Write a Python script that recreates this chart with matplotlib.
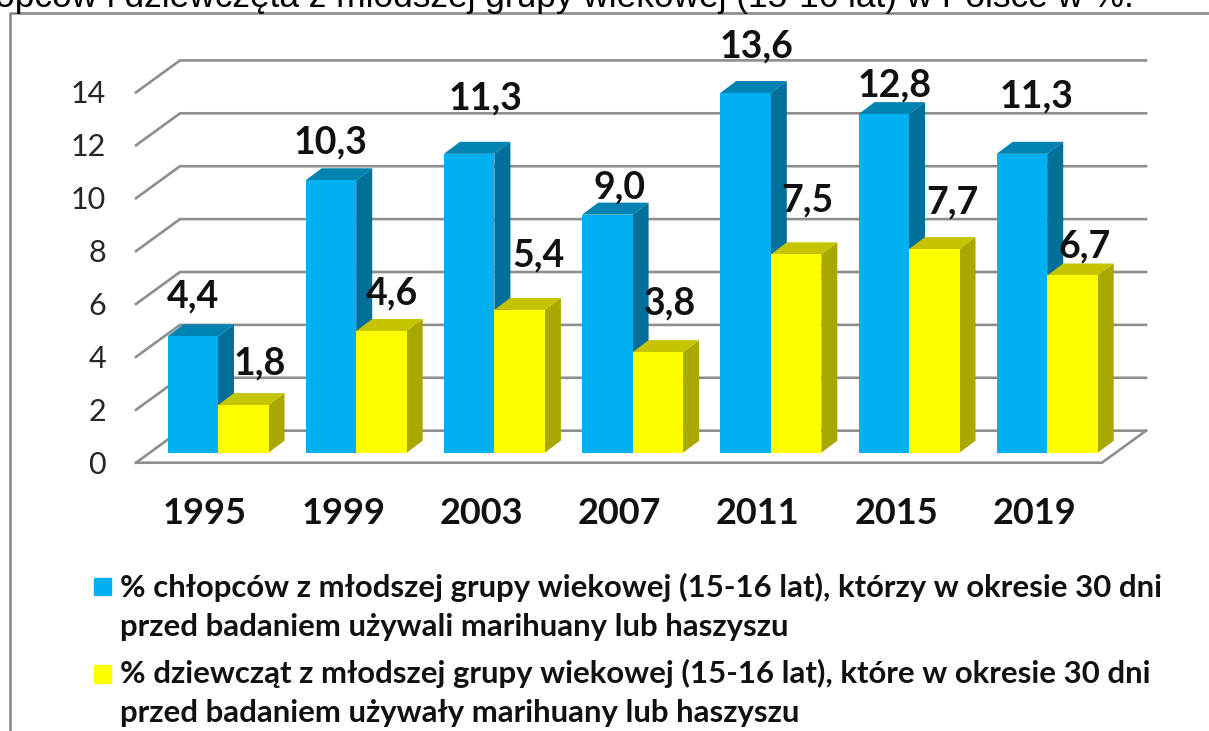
import matplotlib
matplotlib.use("Agg")
import matplotlib.pyplot as plt
from matplotlib.patches import Polygon, Rectangle

years = ["1995", "1999", "2003", "2007", "2011", "2015", "2019"]
boys = [4.4, 10.3, 11.3, 9.0, 13.6, 12.8, 11.3]
girls = [1.8, 4.6, 5.4, 3.8, 7.5, 7.7, 6.7]
y_ticks = [0, 2, 4, 6, 8, 10, 12, 14]

# value labels sit by hand in the original, so these are pixel centres
boys_label_px = [(193, 296), (331, 142), (486, 98), (620, 187), (757, 46), (895, 85), (1037, 96)]
girls_label_px = [(260, 363), (392, 293), (539, 255), (670, 303), (807, 200), (952, 202), (1084, 246)]

title = "chłopców i dziewczęta z młodszej grupy wiekowej (15-16 lat) w Polsce w %."
legend_boys = ["% chłopców z młodszej grupy wiekowej (15-16 lat), którzy w okresie 30 dni",
               "przed badaniem używali marihuany lub haszyszu"]
legend_girls = ["% dziewcząt z młodszej grupy wiekowej (15-16 lat), które w okresie 30 dni",
                "przed badaniem używały marihuany lub haszyszu"]

W, H = 1209, 731
X0_PX, Y0_PX = 218.0, 452.7   # pixel of category 0 / value 0
DX_PX, DY_PX = 138.2, 26.45   # pixels per category / per unit


def px(x, y):
    return (x - X0_PX) / DX_PX, (Y0_PX - y) / DY_PX


fig = plt.figure(figsize=(W / 100, H / 100), dpi=100)
ax = fig.add_axes([0, 0, 1, 1])
ax.set_xlim(px(0, 0)[0], px(W, 0)[0])
ax.set_ylim(px(0, H)[1], px(0, 0)[1])
ax.axis("off")

plt.rcParams["font.family"] = ["Lato", "DejaVu Sans"]
GRID = "#8e8e8e"
INK = "#111111"
bar_w = 50.5 / DX_PX
side_dx = 16 / DX_PX
side_dy = 12 / DY_PX

# outer frame of the pasted picture
ax.plot(*zip(px(W, 13), px(10, 13), px(10, H)), color="#8a8a8a", lw=1.9, zorder=1)

# walls: back gridlines and left wall slants
fl_left, fl_right = -82 / DX_PX, 884 / DX_PX
back_dx, back_dy = 44 / DX_PX, 32 / DY_PX
floor_y = -10 / DY_PX
for v in y_ticks:
    y = v * 1.0 + floor_y
    ax.plot([fl_left, fl_left + back_dx, fl_right + back_dx],
            [y, y + back_dy, y + back_dy], color=GRID, lw=1.9, zorder=1)
    ax.text(fl_left - 30 / DX_PX, y - 2 / DY_PX, str(v), ha="right", va="center",
            fontsize=22, color="#262626")
# floor front edge
ax.plot([fl_left, fl_right, fl_right + back_dx],
        [floor_y, floor_y, floor_y + back_dy], color=GRID, lw=1.9, zorder=1)


def bar3d(x, v, front, top, side):
    ax.bar(x, v, width=bar_w, align="edge", color=front, zorder=3)
    ax.add_patch(Polygon([(x + bar_w, 0), (x + bar_w + side_dx, side_dy),
                          (x + bar_w + side_dx, v + side_dy), (x + bar_w, v)],
                         color=side, lw=0, zorder=2))
    ax.add_patch(Polygon([(x, v), (x + side_dx, v + side_dy),
                          (x + bar_w + side_dx, v + side_dy), (x + bar_w, v)],
                         color=top, lw=0, zorder=2))


for i, (b, g) in enumerate(zip(boys, girls)):
    bar3d(i - bar_w, b, "#00b0f0", "#0083b3", "#006f99")
    bar3d(i, g, "#ffff00", "#c4c400", "#a8a800")

for i, year in enumerate(years):
    ax.text(i - 13 / DX_PX, px(0, 513)[1], year, ha="center", va="center",
            fontsize=26, fontweight="bold", color=INK, zorder=6)
    ax.text(*px(*boys_label_px[i]), f"{boys[i]:.1f}".replace(".", ","), ha="center", va="center",
            fontsize=27, fontweight="bold", color=INK, zorder=6)
    ax.text(*px(*girls_label_px[i]), f"{girls[i]:.1f}".replace(".", ","), ha="center", va="center",
            fontsize=27, fontweight="bold", color=INK, zorder=6)

# title clipped by the top edge
ax.text(*px(-50, 7), title, ha="left", va="baseline", fontsize=25.4,
        family="Liberation Sans", color="black", clip_on=True, zorder=6)

# legend
ax.add_patch(Rectangle(px(94, 595), 17 / DX_PX, 17 / DY_PX, color="#00b0f0", zorder=4))
ax.add_patch(Rectangle(px(94, 683), 17 / DX_PX, 18 / DY_PX, color="#ffff00", zorder=4))
for y, line in zip([587, 627, 673, 713], legend_boys + legend_girls):
    ax.text(*px(120, y), line, ha="left", va="center", fontsize=22.4,
            fontweight="bold", color=INK, zorder=6)

fig.savefig("out.png", dpi=100)
